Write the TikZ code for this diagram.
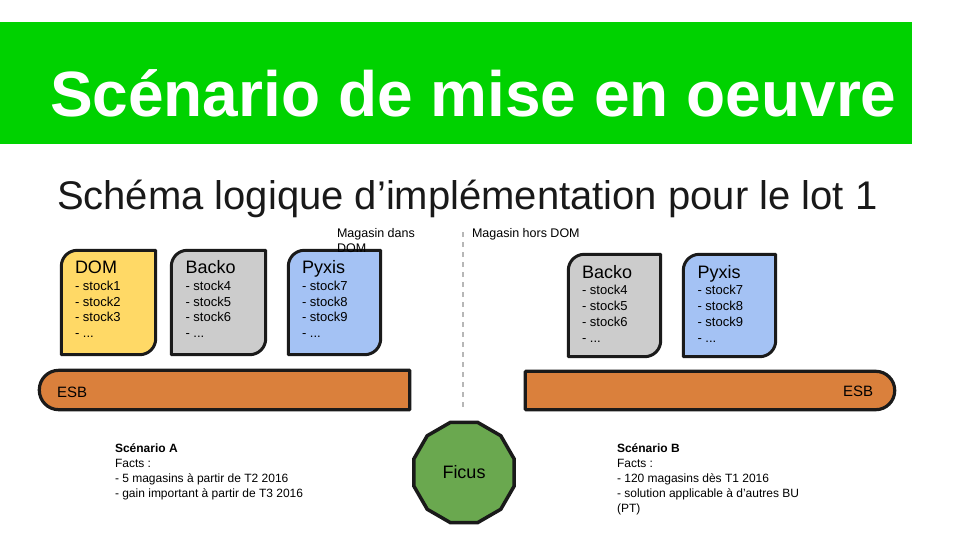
\documentclass[tikz,border=0pt]{standalone}
\usepackage{fontspec}
\setmainfont{Liberation Sans}
\usetikzlibrary{shapes.geometric}
\definecolor{bandgreen}{RGB}{0,210,0}
\definecolor{domyellow}{HTML}{FFD966}
\definecolor{backogray}{HTML}{CCCCCC}
\definecolor{pyxisblue}{HTML}{A4C2F4}
\definecolor{esborange}{RGB}{218,128,60}
\definecolor{ficusgreen}{HTML}{6AA84F}
\definecolor{inkline}{HTML}{1A1A1A}
\definecolor{divgray}{HTML}{B7B7B7}
\newcommand{\pxsize}[1]{\fontsize{#1}{#1}\selectfont}
\newcommand{\stockbox}[6]{%
  \node[inner sep=0, minimum width=#4-#2, minimum height=#5-#3] (#1) at ({(#2+#4)/2},{(#3+#5)/2}) {};
  \filldraw[boxframe, fill=#6] (#1.south west) [rounded corners=16pt] -- (#1.north west) [sharp corners] -- (#1.north east) [rounded corners=16pt] -- (#1.south east) [sharp corners] -- cycle;
}
\newcommand{\boxtext}[7]{%
  \node[txt, font=\pxsize{18}] (#1-title) at (#2,#3) {#4};
  \node[txt, font=\pxsize{13}] (#1-l1) at (#2,#3+16.8) {- #5};
  \node[txt, font=\pxsize{13}] (#1-l2) at (#2,#3+32.6) {- #6};
  \node[txt, font=\pxsize{13}] (#1-l3) at (#2,#3+48.4) {- #7};
  \node[txt, font=\pxsize{13}] (#1-l4) at (#2,#3+64.2) {- ...};
}
\begin{document}
\begin{tikzpicture}[x=1pt,y=-1pt,
  txt/.style={anchor=base west, inner sep=0pt, outer sep=0pt, text=black},
  boxframe/.style={draw=inkline, line width=3pt, line join=round},
  esbframe/.style={draw=inkline, line width=3.2pt, line join=round, fill=esborange},
  facts/.style={txt, font=\pxsize{12}}]
\useasboundingbox (0,0) rectangle (960,540);
% header band
\fill[bandgreen] (0,22) rectangle (912,144);
\node[txt, text=white, font=\pxsize{64}\bfseries] (title) at (50,117) {Scénario de mise en oeuvre};
\node[txt, text=black!90, font=\pxsize{40}] (subtitle) at (57,209) {Schéma logique d’implémentation pour le lot 1};
% divider
\coordinate (divtop) at (463,232);
\coordinate (divbot) at (463,410);
\draw[divgray, line width=1.5pt, dash pattern=on 5pt off 5pt] (divtop) -- (divbot);
% left boxes
\stockbox{dom}{61.5}{250.5}{155.5}{354.5}{domyellow}
\stockbox{backoL}{171.5}{250.5}{265.5}{354.5}{backogray}
\stockbox{pyxisL}{288.5}{250.5}{380.5}{354.5}{pyxisblue}
\boxtext{domtx}{75}{273.5}{DOM}{stock1}{stock2}{stock3}
\boxtext{backoLtx}{185.5}{273.5}{Backo}{stock4}{stock5}{stock6}
\boxtext{pyxisLtx}{302}{273.5}{Pyxis}{stock7}{stock8}{stock9}
% right boxes
\stockbox{backoR}{568.5}{254.5}{660.5}{356.5}{backogray}
\stockbox{pyxisR}{683.5}{254.5}{775.5}{356.5}{pyxisblue}
\boxtext{backoRtx}{582}{278}{Backo}{stock4}{stock5}{stock6}
\boxtext{pyxisRtx}{697.5}{278}{Pyxis}{stock7}{stock8}{stock9}
% ESB bars
\node[inner sep=0, minimum width=370, minimum height=39] (esbL) at (224.5,390) {};
\filldraw[esbframe] (esbL.south east) -- (esbL.north east) [rounded corners=19.5pt] -- (esbL.north west) -- (esbL.south west) [sharp corners] -- cycle;
\node[txt, font=\pxsize{15}] (esbLtx) at (57,397) {ESB};
\node[inner sep=0, minimum width=369, minimum height=38] (esbR) at (710,390.5) {};
\filldraw[esbframe] (esbR.south west) -- (esbR.north west) [rounded corners=19pt] -- (esbR.north east) -- (esbR.south east) [sharp corners] -- cycle;
\node[txt, font=\pxsize{15}] (esbRtx) at (843,396.5) {ESB};
% zone labels
\node[txt, font=\pxsize{12.5}] (zoneA1) at (337,237) {Magasin dans};
\node[txt, font=\pxsize{12.5}] (zoneA2) at (337,252) {DOM};
\node[txt, font=\pxsize{12.5}] (zoneB) at (472,237) {Magasin hors DOM};
% Ficus
\node[regular polygon, regular polygon sides=12, minimum size=104pt, inner sep=0pt,
      draw=inkline, line width=3.5pt, fill=ficusgreen, font=\pxsize{18}] (ficus) at (464,472.5) {Ficus};
% scenario A
\node[facts, font=\pxsize{12}\bfseries] (scA) at (115,452) {Scénario A};
\node[facts] (scA1) at (115,467) {Facts :};
\node[facts] (scA2) at (115,482) {- 5 magasins à partir de T2 2016};
\node[facts] (scA3) at (115,497) {- gain important à partir de T3 2016};
% scenario B
\node[facts, font=\pxsize{12}\bfseries] (scB) at (617,452) {Scénario B};
\node[facts] (scB1) at (617,467) {Facts :};
\node[facts] (scB2) at (617,482) {- 120 magasins dès T1 2016};
\node[facts] (scB3) at (617,497) {- solution applicable à d’autres BU};
\node[facts] (scB4) at (617,512) {(PT)};
\end{tikzpicture}
\end{document}
